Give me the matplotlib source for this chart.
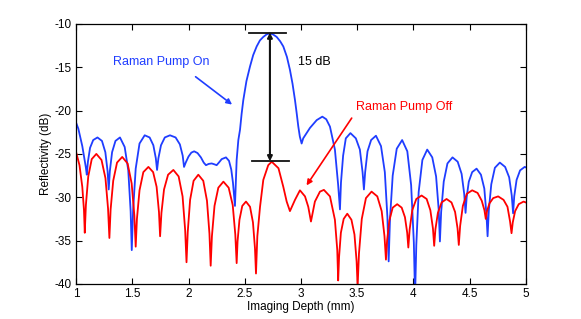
import numpy as np
import matplotlib
matplotlib.use('Agg')
from matplotlib import pyplot as plt

plt.rcParams['font.family'] = ['Liberation Sans', 'DejaVu Sans']
plt.rcParams['axes.unicode_minus'] = False

# Pump off (red)
red_x = [1.0, 1.03, 1.055, 1.07, 1.077,
         1.087, 1.108, 1.139, 1.18, 1.226, 1.261, 1.284, 1.296,
         1.307, 1.330, 1.364, 1.41, 1.458, 1.494, 1.518, 1.53,
         1.541, 1.564, 1.598, 1.643, 1.685, 1.716, 1.737, 1.747,
         1.759, 1.782, 1.818, 1.865, 1.912, 1.947, 1.970, 1.982,
         1.993, 2.014, 2.045, 2.087, 2.131, 2.164, 2.186, 2.197,
         2.208, 2.231, 2.265, 2.31, 2.357, 2.393, 2.416, 2.428,
         2.436, 2.453, 2.478, 2.511, 2.547, 2.573, 2.591, 2.6,
         2.612, 2.636, 2.665, 2.709, 2.74, 2.8, 2.843, 2.873, 2.902,
         2.947, 2.991, 3.036, 3.065, 3.089,
         3.124, 3.169, 3.204, 3.258, 3.302, 3.323, 3.331,
         3.339, 3.355, 3.380, 3.412, 3.449, 3.476, 3.495, 3.504,
         3.516, 3.541, 3.578, 3.628, 3.679, 3.718, 3.743, 3.756,
         3.766, 3.786, 3.816, 3.856, 3.896, 3.925, 3.945, 3.955,
         3.967, 3.990, 4.026, 4.073, 4.118, 4.151, 4.174, 4.185,
         4.196, 4.218, 4.251, 4.295, 4.339, 4.371, 4.393, 4.404,
         4.416, 4.440, 4.475, 4.523, 4.571, 4.608, 4.632, 4.644,
         4.655, 4.677, 4.710, 4.754, 4.802, 4.837, 4.860, 4.873,
         4.884, 4.905, 4.937, 4.98, 5.0]
red_y = [-24.8, -26.3, -28.8, -31.5, -34.1,
         -30.9, -27.6, -25.6, -25.0, -25.7, -27.8, -31.3, -34.7,
         -31.4, -28.1, -26.0, -25.35, -26.1, -28.4, -32.1, -35.7,
         -32.5, -29.2, -27.1, -26.5, -27.1, -28.8, -31.7, -34.5,
         -31.8, -29.1, -27.4, -26.85, -27.6, -29.9, -33.8, -37.5,
         -34.0, -30.3, -28.1, -27.4, -28.1, -30.4, -34.2, -37.9,
         -34.5, -31.0, -28.9, -28.2, -28.9, -30.9, -34.3, -37.6,
         -35.1, -32.6, -31.0, -30.5, -31.1, -32.9, -35.9, -38.8,
         -34.5, -31.1, -28.0, -26.3, -25.9, -26.65, -28.8, -30.5, -31.6,
         -30.3, -29.2, -29.9, -31.1, -32.8,
         -30.5, -29.35, -29.15, -29.9, -32.6, -36.1, -39.6,
         -36.9, -34.1, -32.5, -31.9, -32.6, -34.3, -37.4, -40.3,
         -36.5, -32.5, -30.1, -29.35, -29.9, -31.6, -34.5, -37.2,
         -35.0, -32.7, -31.2, -30.8, -31.2, -32.3, -34.1, -35.8,
         -33.7, -31.5, -30.2, -29.8, -30.2, -31.5, -33.6, -35.6,
         -33.7, -31.8, -30.6, -30.2, -30.6, -31.7, -33.6, -35.5,
         -33.3, -31.0, -29.6, -29.2, -29.5, -30.4, -31.5, -32.5,
         -31.6, -30.7, -30.1, -29.9, -30.3, -31.1, -32.8, -34.15,
         -32.9, -31.6, -30.8, -30.5, -30.6]

# Pump on (blue)
blue_x = [1.0, 1.02, 1.036, 1.055, 1.07, 1.086, 1.095,
          1.105, 1.124, 1.152, 1.19, 1.23, 1.26, 1.28, 1.29,
          1.30, 1.32, 1.35, 1.39, 1.432, 1.464, 1.485, 1.495,
          1.507, 1.530, 1.564, 1.61, 1.654, 1.687, 1.709, 1.72,
          1.732, 1.755, 1.789, 1.835, 1.885, 1.923, 1.948, 1.96,
          1.975, 2.0, 2.025, 2.05, 2.08, 2.11, 2.135, 2.155,
          2.18, 2.206, 2.23, 2.25, 2.27, 2.295, 2.333, 2.36, 2.38, 2.395, 2.405, 2.413,
          2.42, 2.428, 2.443, 2.458, 2.472, 2.487, 2.515, 2.547, 2.575, 2.606,
          2.635, 2.665, 2.695, 2.72, 2.75, 2.784, 2.815, 2.843, 2.875, 2.902,
          2.925, 2.947, 2.962, 2.976, 2.99, 3.006, 3.02, 3.05, 3.08, 3.14,
          3.19, 3.225, 3.258, 3.302, 3.331, 3.347,
          3.356, 3.375, 3.399, 3.44, 3.488, 3.524, 3.548, 3.56,
          3.571, 3.592, 3.624, 3.667, 3.712, 3.746, 3.769, 3.78,
          3.792, 3.816, 3.852, 3.9, 3.946, 3.98, 4.004, 4.015,
          4.026, 4.047, 4.08, 4.123, 4.168, 4.202, 4.225, 4.236,
          4.247, 4.27, 4.303, 4.348, 4.394, 4.429, 4.452, 4.464,
          4.474, 4.493, 4.523, 4.562, 4.601, 4.631, 4.65, 4.66,
          4.671, 4.693, 4.725, 4.769, 4.816, 4.852, 4.875, 4.887,
          4.897, 4.918, 4.949, 4.99, 5.0]
blue_y = [-21.4, -22.1, -23.0, -24.1, -25.3, -26.5, -27.4,
          -25.9, -24.3, -23.4, -23.1, -23.5, -24.8, -27.0, -29.1,
          -27.0, -24.8, -23.5, -23.1, -24.2, -26.9, -31.6, -36.1,
          -31.5, -26.7, -23.8, -22.85, -23.1, -24.0, -25.5, -26.85,
          -25.5, -24.0, -23.1, -22.85, -23.1, -23.9, -25.2, -26.5,
          -26.0, -25.3, -24.85, -24.7, -24.9, -25.4, -26.0, -26.3,
          -26.15, -26.1, -26.2, -26.3, -26.0, -25.6, -25.4, -25.8, -26.8, -28.3, -29.8, -31.0,
          -28.5, -25.7, -23.4, -22.2, -20.4, -18.8, -16.6, -14.9, -13.6, -12.6,
          -11.9, -11.5, -11.2, -11.1, -11.2, -11.5, -12.0, -12.6, -13.8, -15.3,
          -16.9, -18.8, -20.3, -21.8, -23.0, -23.8, -23.2, -22.6, -22.0, -21.1,
          -20.7, -21.0, -21.85, -24.5, -28.6, -31.4,
          -28.3, -25.2, -23.2, -22.6, -23.2, -24.5, -27.1, -29.1,
          -27.1, -24.7, -23.4, -22.9, -24.1, -27.1, -32.3, -37.4,
          -32.5, -27.5, -24.4, -23.4, -24.7, -28.6, -35.2, -41.5,
          -35.5, -29.4, -25.7, -24.5, -25.4, -27.6, -31.4, -35.1,
          -31.7, -28.2, -26.1, -25.4, -25.9, -27.3, -29.6, -31.8,
          -30.0, -28.2, -27.1, -26.7, -27.4, -29.0, -32.0, -34.5,
          -31.5, -28.5, -26.6, -26.0, -26.5, -27.7, -29.8, -31.85,
          -29.9, -28.0, -26.9, -26.5, -26.55]

xticks = [1, 1.5, 2, 2.5, 3, 3.5, 4, 4.5, 5]
xtick_labels = ['1', '1.5', '2', '2.5', '3', '3.5', '4', '4.5', '5']
yticks = [-40, -35, -30, -25, -20, -15, -10]

blue = '#1f3dff'
red = '#ff0000'

fig = plt.figure(figsize=(5.81, 3.19), dpi=100)
ax = fig.add_axes([0.131, 0.110, 0.774, 0.815])

ax.plot(blue_x, blue_y, color=blue, lw=1.3)
ax.plot(red_x, red_y, color=red, lw=1.3)

ax.set_xlim(1, 5)
ax.set_ylim(-40, -10)
ax.set_xticks(xticks)
ax.set_xticklabels(xtick_labels)
ax.set_yticks(yticks)
ax.tick_params(direction='in', top=True, right=True, length=4, labelsize=8.5, pad=3)
for s in ax.spines.values():
    s.set_linewidth(0.9)
ax.set_xlabel('Imaging Depth (mm)', fontsize=8.5, labelpad=1)
ax.set_ylabel('Reflectivity (dB)', fontsize=8.5, labelpad=2)

# annotations
ax.text(1.33, -14.4, 'Raman Pump On', color=blue, fontsize=9, va='center')
ax.annotate('', xy=(2.407, -19.5), xytext=(2.043, -15.9),
            arrowprops=dict(arrowstyle='-|>', color=blue, lw=1.2, mutation_scale=8))
ax.text(3.486, -19.6, 'Raman Pump Off', color=red, fontsize=9, va='center')
ax.annotate('', xy=(3.036, -28.9), xytext=(3.465, -20.6),
            arrowprops=dict(arrowstyle='-|>', color=red, lw=1.2, mutation_scale=8))

# 15 dB marker
ax.annotate('', xy=(2.724, -11.0), xytext=(2.724, -25.85),
            arrowprops=dict(arrowstyle='<|-|>', color='#111111', lw=1.5,
                            mutation_scale=7, shrinkA=0, shrinkB=0))
ax.plot([2.54, 2.867], [-11.0, -11.0], color='#111111', lw=1.3)
ax.plot([2.562, 2.893], [-25.85, -25.85], color='#111111', lw=1.3)
ax.text(2.97, -14.45, '15 dB', fontsize=9, va='center')

fig.savefig('out.png', dpi=100)
